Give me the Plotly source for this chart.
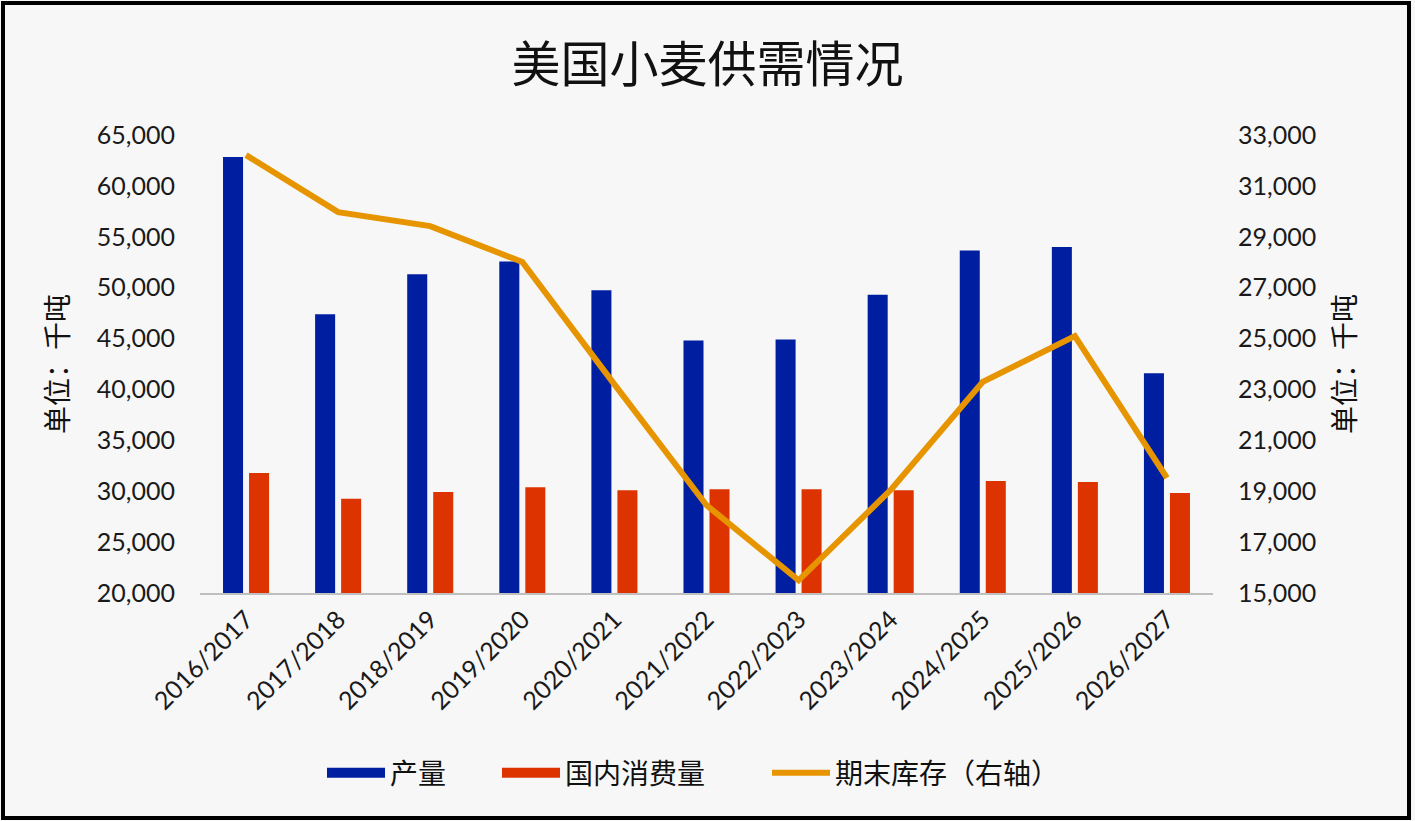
import plotly.graph_objects as go

categories = ["2016/2017", "2017/2018", "2018/2019", "2019/2020", "2020/2021",
              "2021/2022", "2022/2023", "2023/2024", "2024/2025", "2025/2026", "2026/2027"]
production = [62830, 47380, 51310, 52580, 49750, 44800, 44900, 49310, 53650, 53990, 41600]
consumption = [31800, 29250, 29920, 30400, 30100, 30200, 30200, 30100, 31000, 30900, 29820]
ending_stocks = [32210, 29970, 29420, 28010, 23200, 18450, 15500, 19050, 23300, 25100, 19520]

BLUE = "#001ea0"
RED = "#dd3300"
ORANGE = "#e69500"
tick_font = dict(family="Lato, Open Sans, sans-serif", size=25, color="#1a1a1a")
cjk = "Noto Sans CJK SC, sans-serif"

PL, PW, PT, PH = 200, 1013, 135, 458  # plot area in pixels


def px_x(px):
    return (px - PL) / PW


def px_y(py):
    return 1 - (py - PT) / PH


fig = go.Figure()
fig.add_trace(go.Bar(x=categories, y=production, name="产量", showlegend=False,
                     marker=dict(color=BLUE, line=dict(width=0))))
fig.add_trace(go.Bar(x=categories, y=consumption, name="国内消费量", showlegend=False,
                     marker=dict(color=RED, line=dict(width=0))))
fig.add_trace(go.Scatter(x=categories, y=ending_stocks, name="期末库存（右轴）",
                         mode="lines", yaxis="y2", showlegend=False,
                         line=dict(color=ORANGE, width=6)))
# legend entries
fig.add_trace(go.Scatter(x=[None], y=[None], name="产量", mode="lines", legend="legend",
                         line=dict(color=BLUE, width=17)))
fig.add_trace(go.Scatter(x=[None], y=[None], name="国内消费量", mode="lines", legend="legend2",
                         line=dict(color=RED, width=17)))
fig.add_trace(go.Scatter(x=[None], y=[None], name="期末库存（右轴）", mode="lines",
                         yaxis="y2", legend="legend3", line=dict(color=ORANGE, width=6)))

leg_common = dict(orientation="h", xanchor="left", yanchor="middle", y=px_y(773),
                  font=dict(family=cjk, size=28, color="#111111"),
                  bgcolor="rgba(0,0,0,0)", itemwidth=58)

fig.update_layout(
    width=1415, height=821,
    paper_bgcolor="#f7f7f7", plot_bgcolor="#f7f7f7",
    margin=dict(l=PL, r=1415 - PL - PW, t=PT, b=821 - PT - PH),
    barmode="group", bargap=0.435, bargroupgap=0.23,
    title=dict(text="美国小麦供需情况", x=0.5, xanchor="center", y=1 - 65 / 821, yanchor="middle",
               font=dict(family=cjk, size=49, color="#111111")),
    showlegend=True,
    legend=dict(x=px_x(322), **leg_common),
    legend2=dict(x=px_x(497), **leg_common),
    legend3=dict(x=px_x(767), **leg_common),
    xaxis=dict(type="category", tickangle=-45, tickfont=tick_font,
               showline=True, linecolor="#bfbfbf", linewidth=2,
               ticks="", showgrid=False, zeroline=False),
    yaxis=dict(range=[20000, 65000], dtick=5000, tick0=20000, tickformat=",d",
               tickfont=tick_font, showgrid=False, zeroline=False, showline=False,
               ticks="", ticklabelstandoff=24,
               title=dict(text="单位：千吨", font=dict(family=cjk, size=28, color="#111111"),
                          standoff=20)),
    yaxis2=dict(range=[15000, 33000], dtick=2000, tick0=15000, tickformat=",d", overlaying="y",
                side="right", tickfont=tick_font, showgrid=False, zeroline=False,
                showline=False, ticks="", ticklabelstandoff=24,
                title=dict(text="单位：千吨", font=dict(family=cjk, size=28, color="#111111"),
                           standoff=20)),
    shapes=[dict(type="rect", xref="paper", yref="paper",
                 x0=-197 / PW, x1=1 + 196 / PW, y0=-225 / PH, y1=1 + 132 / PH,
                 line=dict(color="#000000", width=4), fillcolor="rgba(0,0,0,0)",
                 layer="above")],
)

fig.write_html("out.html", config={"displayModeBar": False},
               post_script="document.body.style.margin='0';document.body.style.overflow='hidden';")
